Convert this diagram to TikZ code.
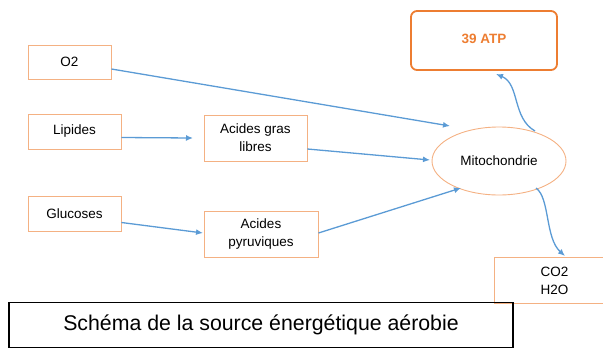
\documentclass[tikz,border=0pt]{standalone}
\usepackage{fontspec}
\setmainfont{Liberation Sans}
\usetikzlibrary{arrows.meta,shapes.geometric}
\definecolor{boxor}{HTML}{F4B183}
\definecolor{atpor}{HTML}{ED7D31}
\definecolor{arrblue}{HTML}{5B9BD5}
\begin{document}
\begin{tikzpicture}[x=1pt,y=-1pt,
  box/.style={draw=boxor,line width=0.9pt,inner sep=0pt,align=center,font=\fontsize{13.5}{18}\selectfont},
  arr/.style={draw=arrblue,line width=1.3pt,-{Latex[length=7pt,width=6pt]}}]
\useasboundingbox (0,0) rectangle (603,349);
\clip (0,0) rectangle (603,349);
\node[box,minimum width=83pt,minimum height=34pt] (o2) at (69.5,62) {O2};
\node[box,minimum width=93pt,minimum height=35pt] (lip) at (74.5,131.5) {Lipides};
\node[box,minimum width=103pt,minimum height=46pt] (agl) at (255.5,138) {Acides gras\\libres};
\node[box,minimum width=93pt,minimum height=35pt] (glu) at (74.5,213.5) {Glucoses};
\node[box,minimum width=114pt,minimum height=46pt] (apy) at (261,234) {Acides\\pyruviques};
\node[draw=boxor,line width=0.9pt,ellipse,minimum width=134pt,minimum height=68pt,inner sep=0pt,font=\fontsize{13.5}{18}\selectfont] (mito) at (499,161) {Mitochondrie};
\node[draw=atpor,line width=1.8pt,rounded corners=6pt,minimum width=146pt,minimum height=59pt,inner sep=0pt,text=atpor,font=\bfseries\fontsize{13.5}{18}\selectfont] (atp) at (484,40.5) {\raisebox{4pt}{39 ATP}};
\node[box,minimum width=120pt,minimum height=46pt,anchor=north west] (co2) at (494,257) {CO2\\H2O};
\node[draw=black,line width=1.6pt,minimum width=504pt,minimum height=45pt,inner sep=0pt,font=\fontsize{21.3}{24}\selectfont] (cap) at (261,325) {Schéma de la source énergétique aérobie};
\coordinate (m1) at (450,126);
\coordinate (m2) at (430,160);
\coordinate (m3) at (461,188);
\coordinate (l1) at (193,138);
\coordinate (g1) at (203,233);
\coordinate (t1) at (496,74);
\coordinate (c1) at (565,256);
\coordinate (ms1) at (535,131);
\coordinate (ms2) at (536,188);
\draw[arr] (o2.east) ++(0,7) -- (m1);
\draw[arr] (lip.east) ++(0,6) -- (l1);
\draw[arr] (agl.east) ++(0,11) -- (m2);
\draw[arr] (glu.east) ++(0,9) -- (g1);
\draw[arr] (apy.east) ++(0,-1) -- (m3);
\draw[arr] (ms1) .. controls (512,118) and (520,84) .. (t1);
\draw[arr] (ms2) .. controls (550,198) and (545,238) .. (c1);
\end{tikzpicture}
\end{document}
